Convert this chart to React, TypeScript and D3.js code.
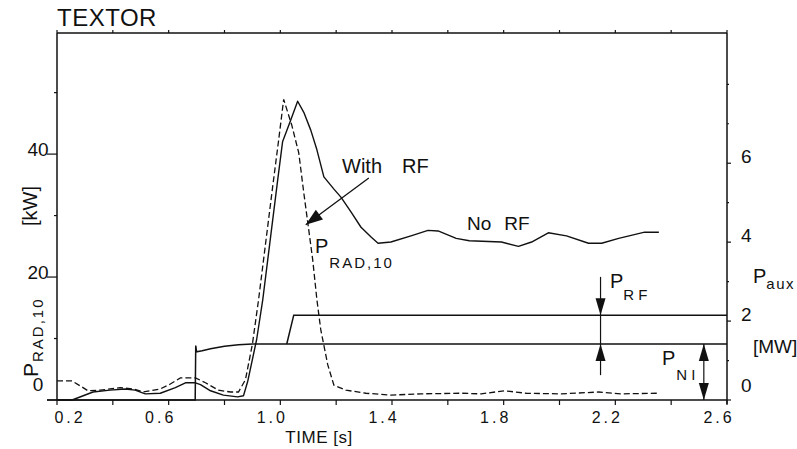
import React from "react";
import * as d3 from "d3";

// ---------- data ----------
const timeTicks = [0.2, 0.4, 0.6, 0.8, 1.0, 1.2, 1.4, 1.6, 1.8, 2.0, 2.2, 2.4, 2.6];
const timeLabels = [0.2, 0.6, 1.0, 1.4, 1.8, 2.2, 2.6];
const pradLabels = [0, 20, 40];
const pradMinor = [10, 30, 50];
const pauxLabels = [0, 2, 4, 6];
const pauxMinor = [1, 3, 5, 7, 8];

// P_RAD,10 without RF (solid), kW
const noRfTime = [0.2, 0.254, 0.329, 0.39, 0.444, 0.48, 0.516, 0.57, 0.624, 0.66, 0.696, 0.714, 0.75, 0.796, 0.847, 0.868, 0.883, 0.915, 0.937, 0.965, 0.99, 1.008, 1.037, 1.062, 1.084, 1.109, 1.131, 1.156, 1.192, 1.217, 1.253, 1.289, 1.325, 1.35, 1.396, 1.468, 1.529, 1.565, 1.63, 1.677, 1.792, 1.853, 1.9, 1.96, 2.025, 2.104, 2.151, 2.212, 2.305, 2.356];
const noRfPrad = [0, 0, 1.3, 1.6, 1.8, 1.6, 1.0, 1.1, 2.0, 2.8, 2.8, 2.5, 1.5, 0.8, 0.5, 0.7, 3.0, 9.8, 16.3, 26.5, 35.6, 42.0, 45.5, 48.6, 46.8, 43.9, 40.7, 36.3, 34.3, 33.0, 30.6, 28.1, 26.5, 25.5, 25.7, 26.7, 27.6, 27.5, 26.3, 25.9, 25.7, 25.0, 25.7, 27.2, 26.7, 25.5, 25.5, 26.3, 27.3, 27.3];

// P_RAD,10 with RF (dashed), kW
const withRfTime = [0.2, 0.254, 0.283, 0.311, 0.355, 0.426, 0.473, 0.509, 0.57, 0.606, 0.642, 0.696, 0.732, 0.778, 0.822, 0.85, 0.875, 0.9, 0.922, 0.947, 0.972, 0.994, 1.012, 1.041, 1.066, 1.084, 1.102, 1.116, 1.131, 1.145, 1.17, 1.192, 1.235, 1.307, 1.396, 1.504, 1.648, 1.72, 1.802, 1.881, 2.007, 2.14, 2.223, 2.356];
const withRfPrad = [3.1, 3.1, 2.3, 1.5, 1.6, 2.0, 1.8, 1.3, 1.8, 2.6, 3.6, 3.6, 2.8, 1.6, 1.3, 1.3, 3.3, 9.1, 16.3, 25.4, 34.5, 42.3, 48.9, 44.7, 40.2, 33.7, 27.6, 22.8, 16.3, 11.4, 5.7, 2.4, 1.6, 1.1, 0.8, 1.0, 1.1, 1.0, 1.5, 1.1, 1.0, 1.3, 1.0, 1.1];

// P_aux traces, MW
const nbiTime = [0.2, 0.695, 0.697, 0.7, 0.72, 0.75, 0.8, 0.85, 0.9, 2.6];
const nbiPower = [0, 0, 1.38, 1.22, 1.25, 1.3, 1.36, 1.4, 1.42, 1.42];
const totalTime = [1.023, 1.048, 2.6];
const totalPower = [1.42, 2.15, 2.15];

// ---------- layout ----------
const W = 797, H = 449;
const FONT = "'Liberation Sans', Arial, sans-serif";

const x = d3.scaleLinear().domain([0.2, 2.6]).range([57, 727]);
const yL = d3.scaleLinear().domain([0, 59.7]).range([400, 33]);
const yR = d3.scaleLinear().domain([0, 9.3]).range([400, 33]);

const lineL = d3.line<[number, number]>().x(d => x(d[0])).y(d => yL(d[1]));
const lineR = d3.line<[number, number]>().x(d => x(d[0])).y(d => yR(d[1]));

const zip = (a: number[], b: number[]) => a.map((v, i) => [v, b[i]] as [number, number]);

function head(x1: number, y1: number, x2: number, y2: number, len: number, half: number) {
  const a = Math.atan2(y2 - y1, x2 - x1);
  const bx = x2 - len * Math.cos(a);
  const by = y2 - len * Math.sin(a);
  return `${x2},${y2} ${bx - half * Math.sin(a)},${by + half * Math.cos(a)} ${bx + half * Math.sin(a)},${by - half * Math.cos(a)}`;
}

export default function App() {
  const x0 = x(0.2), x1 = x(2.6), yTop = yL.range()[1], yBot = yL(0);
  const nbiLevel = nbiPower[nbiPower.length - 1];
  const totLevel = totalPower[totalPower.length - 1];

  // annotation anchors (data units)
  const wArrow = { x1: x(1.317), y1: yL(36.1), x2: x(1.091), y2: yL(28.5) };
  const rfX = x(2.147);
  const niX = x(2.517);

  return (
    <svg width={W} height={H} viewBox={`0 0 ${W} ${H}`}
      style={{ position: "absolute", left: 0, top: 0, display: "block", background: "#fff" }}
      fontFamily={FONT}>
      <rect x={0} y={0} width={W} height={H} fill="#fff" />

      {/* title */}
      <text x={57} y={26} fontSize={24} fill="#111" letterSpacing={0.5}>TEXTOR</text>

      {/* frame */}
      <g stroke="#111" strokeWidth={1.5} fill="none">
        <line x1={x0} y1={yTop} x2={x1} y2={yTop} />
        <line x1={x0} y1={yTop} x2={x0} y2={yBot} />
        <line x1={x1} y1={yTop} x2={x1} y2={yBot + 4} />
        <line x1={x0 - 10} y1={yBot} x2={x1} y2={yBot} />
      </g>

      {/* ticks */}
      <g stroke="#111" strokeWidth={1.2}>
        {timeTicks.map(t => (
          <g key={t}>
            <line x1={x(t)} y1={yBot} x2={x(t)} y2={yBot + 5} />
            <line x1={x(t)} y1={yTop} x2={x(t)} y2={yTop - 3} />
          </g>
        ))}
        {pradLabels.map(v => (
          <line key={v} x1={x0 - 10} y1={yL(v)} x2={x0} y2={yL(v)} />
        ))}
        {pradMinor.map(v => (
          <line key={v} x1={x0 - 3} y1={yL(v)} x2={x0} y2={yL(v)} />
        ))}
        {pauxLabels.map(v => (
          <line key={v} x1={x1} y1={yR(v)} x2={x1 + 4} y2={yR(v)} />
        ))}
        {pauxMinor.map(v => (
          <line key={v} x1={x1} y1={yR(v)} x2={x1 + 2} y2={yR(v)} />
        ))}
      </g>

      {/* tick labels */}
      <g fill="#111" fontSize={16} textAnchor="middle" letterSpacing={3}>
        {timeLabels.map(t => (
          <text key={t} x={Math.max(x(t) - 8, x0 + 13)} y={423}>{t.toFixed(1)}</text>
        ))}
      </g>
      <g fill="#111" fontSize={19} textAnchor="middle">
        {pradLabels.map(v => (
          <text key={v} x={38} y={Math.min(yL(v) + 2, yBot - 9)}>{v}</text>
        ))}
      </g>
      <g fill="#111" fontSize={19}>
        {pauxLabels.map(v => (
          <text key={v} x={741} y={Math.min(yR(v), yBot - 8)}>{v}</text>
        ))}
      </g>

      {/* axis titles */}
      <text x={319} y={443} fontSize={17} textAnchor="middle" fill="#111" letterSpacing={0.5}>TIME [s]</text>
      <g transform="translate(38,377) rotate(-90)">
        <text fontSize={21} fill="#111">P<tspan dy={5} dx={1} fontSize={15} letterSpacing={2}>RAD,10</tspan></text>
      </g>
      <g transform="translate(37,206) rotate(-90)">
        <text fontSize={20} fill="#111" textAnchor="middle">[kW]</text>
      </g>
      <text x={753} y={283} fontSize={20} fill="#111">P<tspan dy={6} fontSize={15} letterSpacing={1.5}>aux</tspan></text>
      <text x={753} y={353} fontSize={19} fill="#111">[MW]</text>

      {/* P_aux traces */}
      <g fill="none" stroke="#111" strokeWidth={1.5}>
        <path d={lineR(zip(nbiTime, nbiPower)) || ""} />
        <path d={lineR(zip(totalTime, totalPower)) || ""} />
      </g>

      {/* P_RAD traces */}
      <path d={lineL(zip(noRfTime, noRfPrad)) || ""} fill="none" stroke="#111" strokeWidth={1.4} strokeLinejoin="round" />
      <path d={lineL(zip(withRfTime, withRfPrad)) || ""} fill="none" stroke="#111" strokeWidth={1.3} strokeDasharray="6,3" />

      {/* annotations */}
      <text x={342} y={173} fontSize={20} fill="#111">With<tspan dx={20}>RF</tspan></text>
      <line x1={wArrow.x1} y1={wArrow.y1} x2={wArrow.x2} y2={wArrow.y2} stroke="#111" strokeWidth={1.3} />
      <polygon points={head(wArrow.x1, wArrow.y1, wArrow.x2, wArrow.y2, 17, 6)} fill="#111" />
      <text x={315} y={253} fontSize={20} fill="#111">P<tspan dy={15} dx={1} fontSize={15} letterSpacing={2}>RAD,10</tspan></text>
      <text x={467} y={230} fontSize={19} fill="#111">No<tspan dx={13}>RF</tspan></text>

      {/* P_RF / P_NI arrows */}
      <g stroke="#111" strokeWidth={1.2}>
        <line x1={rfX} y1={yR(3.12)} x2={rfX} y2={yR(0.63)} />
        <line x1={niX} y1={yR(nbiLevel)} x2={niX} y2={yR(0)} />
      </g>
      <g fill="#111">
        <polygon points={head(rfX, yR(3.12), rfX, yR(totLevel), 17, 5)} />
        <polygon points={head(rfX, yR(0.63), rfX, yR(nbiLevel), 17, 5)} />
        <polygon points={head(niX, yR(0), niX, yR(nbiLevel), 17, 5)} />
        <polygon points={head(niX, yR(nbiLevel), niX, yR(0), 17, 5)} />
      </g>
      <text x={610} y={288} fontSize={20} fill="#111">P<tspan dy={12} fontSize={15} letterSpacing={4}>RF</tspan></text>
      <text x={662} y={365} fontSize={20} fill="#111">P<tspan dy={15} dx={1} fontSize={15} letterSpacing={4}>NI</tspan></text>
    </svg>
  );
}
